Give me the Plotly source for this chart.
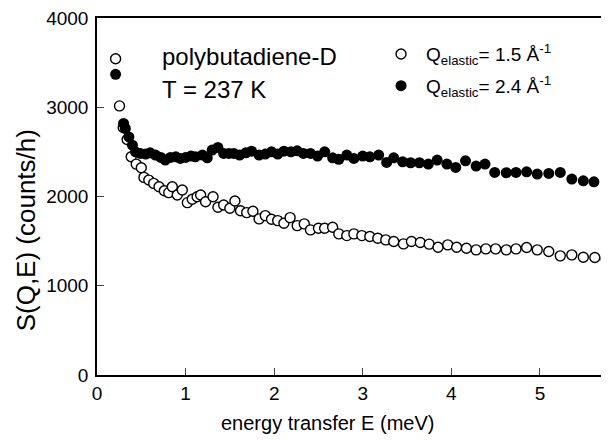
import plotly.graph_objects as go

# Q_elastic = 1.5 1/A (open circles)
E_15 = [0.21, 0.254, 0.296, 0.34, 0.386, 0.443, 0.50, 0.53, 0.585, 0.64, 0.70, 0.76, 0.81,
        0.85, 0.906, 0.963, 1.02, 1.075, 1.13, 1.17, 1.226, 1.31, 1.365, 1.43, 1.50, 1.557,
        1.62, 1.69, 1.76, 1.83, 1.90, 1.97, 2.04, 2.11, 2.18, 2.26, 2.34, 2.41, 2.50, 2.57,
        2.66, 2.73, 2.82, 2.90, 2.99, 3.08, 3.17, 3.26, 3.35, 3.46, 3.55, 3.65, 3.75, 3.85,
        3.96, 4.06, 4.17, 4.28, 4.39, 4.50, 4.62, 4.73, 4.85, 4.97, 5.10, 5.23, 5.36, 5.49,
        5.62, 5.75]
S_15 = [3544, 3015, 2773, 2639, 2445, 2363, 2322, 2214, 2184, 2147, 2110, 2065, 2043,
        2110, 2017, 2073, 1931, 1969, 1998, 2017, 1942, 1998, 1879, 1905, 1868, 1950,
        1841, 1819, 1835, 1749, 1786, 1745, 1730, 1700, 1763, 1674, 1693, 1626, 1645, 1645,
        1656, 1581, 1562, 1581, 1562, 1551, 1533, 1514, 1495, 1469, 1495, 1484, 1466, 1432,
        1458, 1432, 1421, 1402, 1413, 1413, 1402, 1413, 1428, 1402, 1383, 1335, 1346, 1320,
        1316, 1298]

# Q_elastic = 2.4 1/A (filled circles)
E_24 = [0.21, 0.30, 0.32, 0.36, 0.40, 0.435, 0.49, 0.55, 0.60, 0.66, 0.72, 0.77, 0.83,
        0.89, 0.94, 1.00, 1.06, 1.11, 1.19, 1.245, 1.30, 1.365, 1.43, 1.49, 1.545, 1.61,
        1.68, 1.745, 1.83, 1.90, 1.97, 2.04, 2.11, 2.19, 2.26, 2.33, 2.41, 2.49, 2.57,
        2.66, 2.73, 2.82, 2.90, 3.00, 3.08, 3.18, 3.27, 3.35, 3.45, 3.54, 3.64, 3.74,
        3.84, 3.95, 4.05, 4.16, 4.28, 4.38, 4.49, 4.62, 4.73, 4.85, 4.97, 5.10, 5.23,
        5.36, 5.49, 5.61, 5.76]
S_24 = [3369, 2818, 2762, 2668, 2575, 2500, 2483, 2475, 2490, 2464, 2438, 2408, 2438,
        2445, 2427, 2438, 2453, 2445, 2464, 2434, 2520, 2550, 2483, 2483, 2483, 2464,
        2490, 2508, 2464, 2475, 2501, 2475, 2508, 2501, 2512, 2483, 2483, 2453, 2501,
        2434, 2416, 2464, 2427, 2453, 2445, 2464, 2382, 2434, 2389, 2378, 2378, 2363,
        2408, 2363, 2326, 2400, 2341, 2363, 2270, 2266, 2270, 2277, 2251, 2259, 2270,
        2195, 2176, 2165, 2192]

x_ticks = [0, 1, 2, 3, 4, 5]
y_ticks = [0, 1000, 2000, 3000, 4000]

FONT = "Arial, Liberation Sans, Helvetica, sans-serif"

fig = go.Figure()
fig.add_trace(go.Scatter(
    x=E_15, y=S_15, mode="markers", legendgroup="a",
    name="Q<sub>elastic</sub>= 1.5 Å<sup>-1</sup>",
    marker=dict(symbol="circle", size=10, color="white", line=dict(color="black", width=1.4)),
))
fig.add_trace(go.Scatter(
    x=E_24, y=S_24, mode="markers", legendgroup="b",
    name="Q<sub>elastic</sub>= 2.4 Å<sup>-1</sup>",
    marker=dict(symbol="circle", size=11, color="black", line=dict(color="black", width=0)),
))

fig.update_layout(
    width=609, height=441,
    margin=dict(l=88.5, r=8, t=9.5, b=73.5, autoexpand=False),
    paper_bgcolor="white", plot_bgcolor="white",
    font=dict(family=FONT, size=19, color="black"),
    showlegend=True,
    legend=dict(x=0.545, y=0.952, xanchor="left", yanchor="top", bgcolor="rgba(0,0,0,0)",
                font=dict(size=19), itemwidth=40, tracegroupgap=4),
    xaxis=dict(range=[0, 5.78], tickvals=x_ticks, ticks="inside", ticklen=7, tickwidth=1,
               showline=True, linecolor="black", linewidth=1.5, mirror=True,
               showgrid=False, zeroline=False, tickfont=dict(size=19), automargin=False,
               ticklabeloverflow="allow"),
    yaxis=dict(range=[0, 4000], tickvals=y_ticks, ticks="inside", ticklen=7, tickwidth=1,
               showline=True, linecolor="black", linewidth=1.5, mirror=False,
               showgrid=False, zeroline=False, tickfont=dict(size=19), automargin=False,
               ticklabelstandoff=3, ticklabeloverflow="allow"),
    yaxis2=dict(range=[0, 4000], tickvals=y_ticks, overlaying="y", side="right",
                ticks="inside", ticklen=7, tickwidth=1, tickcolor="black", automargin=False,
                showticklabels=False, showline=False, showgrid=False, zeroline=False),
)

fig.add_annotation(text="energy transfer E (meV)", xref="paper", yref="paper", x=0.45, y=-0.135,
                   xanchor="center", yanchor="middle", showarrow=False, font=dict(size=20))
fig.add_annotation(text="S(Q,E) (counts/h)", xref="paper", yref="paper", x=-0.1395, y=0.404,
                   xanchor="center", yanchor="middle", textangle=-90, showarrow=False,
                   font=dict(size=26))
fig.add_annotation(text="polybutadiene-D", xref="paper", yref="paper", x=0.124, y=0.8925,
                   xanchor="left", yanchor="middle", showarrow=False, font=dict(size=24))
fig.add_annotation(text="T = 237 K", xref="paper", yref="paper", x=0.124, y=0.799,
                   xanchor="left", yanchor="middle", showarrow=False, font=dict(size=24))

fig.write_html("out.html")
